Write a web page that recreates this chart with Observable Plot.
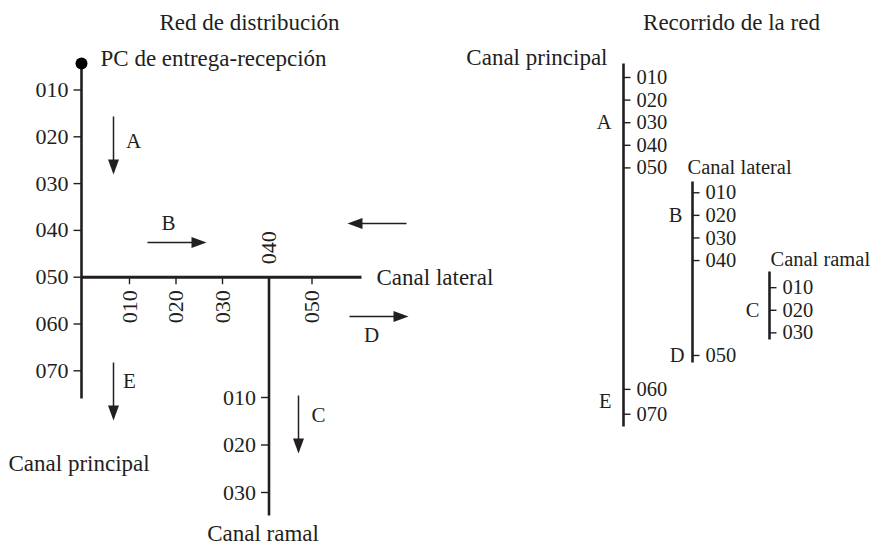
<!DOCTYPE html>
<html><head><meta charset="utf-8">
<script src="https://cdn.jsdelivr.net/npm/d3@7"></script>
<script src="https://cdn.jsdelivr.net/npm/@observablehq/plot@0.6"></script>
<style>body{margin:0;background:#fff} svg{display:block}</style>
</head><body><div id="chart"></div>
<script>
// ---------- data ----------
const mainStations = ["010","020","030","040","050","060","070"];
const lateralStations = ["010","020","030","040","050"];
const ramalStations = ["010","020","030"];
const flowLetters = ["A","B","C","D","E"];
const titles = ["Red de distribución","Recorrido de la red"];
const canalNames = ["Canal principal","Canal lateral","Canal ramal"];
const originLabel = "PC de entrega-recepción";

// ---------- layout ----------
const ink = "#231f20";
const serif = "Liberation Serif, 'Times New Roman', serif";
const W = 871, H = 545;
const FS = {title: 23, name: 23, tick: 22, letter: 21, tree: 20.5, treeName: 20.5};

// left panel (map of the network)
const P = {x: 81, top: 63, y0: 89.5, step: 46.8, bottom: 398};
const mainY = i => P.y0 + i * P.step;
const latY = mainY(mainStations.indexOf("050"));
const LT = {x0: 129, step: 46.5, lastStep: 43, end: 361};
const latX = i => i < lateralStations.length - 1 ? LT.x0 + i * LT.step : LT.x0 + (i - 1) * LT.step + LT.lastStep;
const ramalX = latX(lateralStations.indexOf("040"));
const RM = {y0: 397, step: 47.5, end: 515};
const ramalY = i => RM.y0 + i * RM.step;

// right panel (route listing), rows in list order
const rowY = r => 77 + r * 22.6;
const treeRows = {main: [0,1,2,3,4,13.8,14.9], lateral: [5.1,6.1,7.1,8.1,12.3], ramal: [9.3,10.3,11.3]};
const treeX = {main: 623, lateral: 692, ramal: 769};
const treeSpan = {main: [63, 426], lateral: [181, 362], ramal: [271, 339]};
const treeStations = {main: mainStations, lateral: lateralStations, ramal: ramalStations};

// flow arrows on the map
const flowArrows = [
  {label: "A", x1: 113, y1: 116, x2: 113, y2: 174, lx: 133, ly: 141},
  {label: "B", x1: 147, y1: 242, x2: 206, y2: 242, lx: 168, ly: 223},
  {label: "",  x1: 406, y1: 223, x2: 347, y2: 223, lx: 0, ly: 0},
  {label: "D", x1: 349, y1: 316, x2: 408, y2: 316, lx: 371, ly: 335},
  {label: "E", x1: 113, y1: 362, x2: 113, y2: 420, lx: 129, ly: 381},
  {label: "C", x1: 298, y1: 395, x2: 298, y2: 453, lx: 318, ly: 415}
];
const HEAD = 15;
const dirOf = a => a.x2 > a.x1 ? "right" : a.x2 < a.x1 ? "left" : "down";
const headSymbol = (dx, dy) => ({draw(ctx) {
  const px = -dy, py = dx, hw = 5.5;
  ctx.moveTo(0, 0);
  ctx.lineTo(-dx * HEAD + px * hw, -dy * HEAD + py * hw);
  ctx.lineTo(-dx * HEAD - px * hw, -dy * HEAD - py * hw);
  ctx.closePath();
}});
const symbols = {right: headSymbol(1, 0), left: headSymbol(-1, 0), down: headSymbol(0, 1)};

// ---------- derived geometry ----------
const segments = [
  {x1: P.x, y1: P.top, x2: P.x, y2: P.bottom, w: 2.6},
  {x1: P.x, y1: latY, x2: LT.end, y2: latY, w: 3},
  {x1: ramalX, y1: latY, x2: ramalX, y2: RM.end, w: 2.6},
  ...Object.keys(treeX).map(k => ({x1: treeX[k], y1: treeSpan[k][0], x2: treeX[k], y2: treeSpan[k][1], w: 2.6}))
];
const ticks = [
  ...mainStations.map((s, i) => ({x1: P.x - 8, y1: mainY(i), x2: P.x, y2: mainY(i)})),
  ...lateralStations.filter(s => s !== "040").map(s => {const i = lateralStations.indexOf(s); return {x1: latX(i), y1: latY, x2: latX(i), y2: latY + 7};}),
  ...ramalStations.map((s, i) => ({x1: ramalX - 8, y1: ramalY(i), x2: ramalX, y2: ramalY(i)})),
  ...Object.keys(treeX).flatMap(k => treeRows[k].map(r => ({x1: treeX[k], y1: rowY(r), x2: treeX[k] + 7, y2: rowY(r)})))
];
const treeLabels = Object.keys(treeX).flatMap(k => treeStations[k].map((s, i) => ({text: s, x: treeX[k] + 13, y: rowY(treeRows[k][i])})));
const treeLetters = [
  {text: "A", x: treeX.main - 12, y: rowY(2)},
  {text: "B", x: treeX.lateral - 10, y: rowY(6.1)},
  {text: "C", x: treeX.ramal - 10, y: rowY(10.3)},
  {text: "D", x: treeX.lateral - 8, y: rowY(12.3)},
  {text: "E", x: treeX.main - 12, y: rowY(14.35)}
].filter(d => flowLetters.includes(d.text));

const font = {fontFamily: serif, fill: ink, stroke: "none"};

const plot = Plot.plot({
  width: W, height: H, margin: 0,
  x: {domain: [0, W], range: [0, W], axis: null},
  y: {domain: [0, H], range: [0, H], axis: null},
  style: {background: "#fff", overflow: "visible"},
  marks: [
    Plot.link(segments, {x1: "x1", y1: "y1", x2: "x2", y2: "y2", stroke: ink, strokeWidth: "w"}),
    Plot.link(ticks, {x1: "x1", y1: "y1", x2: "x2", y2: "y2", stroke: ink, strokeWidth: 1.4}),
    Plot.dot([0], {x: P.x, y: P.top, r: 6, fill: "#000", stroke: "none"}),
    // flow arrows
    Plot.link(flowArrows, {
      x1: "x1", y1: "y1",
      x2: d => d.x2 - Math.sign(d.x2 - d.x1) * 8, y2: d => d.y2 - Math.sign(d.y2 - d.y1) * 8,
      stroke: ink, strokeWidth: 1.5
    }),
    ...["right", "left", "down"].map(dir => Plot.dot(flowArrows.filter(a => dirOf(a) === dir), {
      x: "x2", y: "y2", symbol: symbols[dir], fill: ink, stroke: "none", r: 5
    })),
    Plot.text(flowArrows.filter(a => a.label), {x: "lx", y: "ly", text: "label", fontSize: FS.letter, ...font}),
    // titles
    Plot.text([titles[0]], {x: 249, y: 22, text: d => d, fontSize: FS.title, ...font}),
    Plot.text([titles[1]], {x: 731, y: 22, text: d => d, fontSize: FS.title, ...font}),
    Plot.text([originLabel], {x: 100, y: 58, text: d => d, textAnchor: "start", fontSize: FS.name, ...font}),
    // left map labels
    Plot.text(mainStations, {x: P.x - 13, y: (d, i) => mainY(i), text: d => d, textAnchor: "end", fontSize: FS.tick, ...font}),
    Plot.text(lateralStations.filter(s => s !== "040"), {
      x: s => latX(lateralStations.indexOf(s)), y: latY + 13, text: d => d,
      rotate: -90, textAnchor: "end", fontSize: FS.tick, ...font
    }),
    Plot.text(["040"], {x: ramalX, y: latY - 13, text: d => d, rotate: -90, textAnchor: "start", fontSize: FS.tick, ...font}),
    Plot.text(ramalStations, {x: ramalX - 13, y: (d, i) => ramalY(i), text: d => d, textAnchor: "end", fontSize: FS.tick, ...font}),
    Plot.text([canalNames[1]], {x: LT.end + 15, y: latY, text: d => d, textAnchor: "start", fontSize: FS.name, ...font}),
    Plot.text([canalNames[0]], {x: 8, y: 463, text: d => d, textAnchor: "start", fontSize: FS.name, ...font}),
    Plot.text([canalNames[2]], {x: ramalX - 6, y: 533, text: d => d, fontSize: FS.name, ...font}),
    // right tree labels
    Plot.text(treeLabels, {x: "x", y: "y", text: "text", textAnchor: "start", fontSize: FS.tree, ...font}),
    Plot.text(treeLetters, {x: "x", y: "y", text: "text", textAnchor: "end", fontSize: FS.tree, ...font}),
    Plot.text([canalNames[0]], {x: 607, y: 57, text: d => d, textAnchor: "end", fontSize: FS.name, ...font}),
    Plot.text([canalNames[1]], {x: 687, y: 167, text: d => d, textAnchor: "start", fontSize: FS.treeName, ...font}),
    Plot.text([canalNames[2]], {x: 770, y: 259, text: d => d, textAnchor: "start", fontSize: FS.treeName, ...font})
  ]
});
document.getElementById("chart").append(plot);
</script>
</body></html>
